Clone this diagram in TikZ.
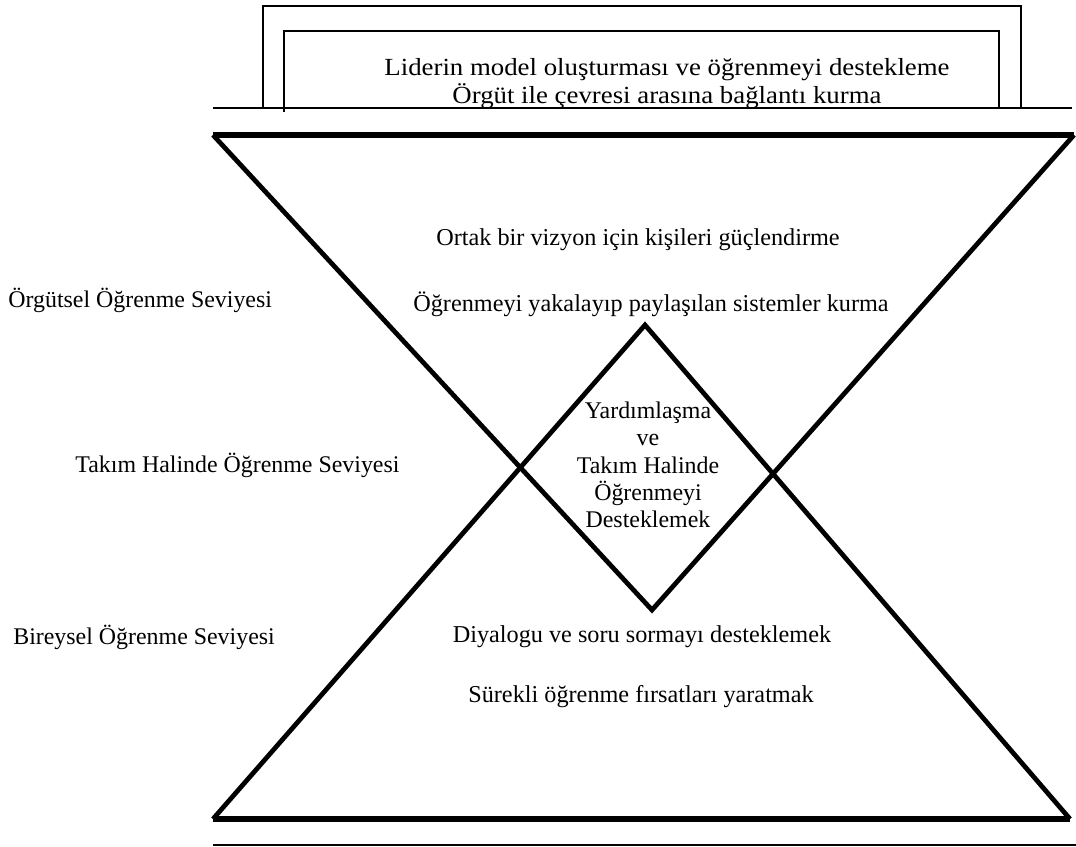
\documentclass[tikz,border=0pt]{standalone}
\usepackage{fontspec}
\setmainfont{Liberation Serif}
\newfontfamily\widefont[FakeStretch=1.09]{Liberation Serif}
\begin{document}
\begin{tikzpicture}[x=0.02cm, y=-0.02cm,
	thinline/.style={draw, line width=0.8pt},
	thickline/.style={draw, line width=3.8pt, line join=miter},
	diag/.style={draw, line width=2.7pt, line join=miter},
	txt/.style={font=\fontsize{13.8}{15.6}\selectfont, inner sep=0pt},
	toptxt/.style={txt, font=\widefont\fontsize{14}{14.7}\selectfont},
	level/.style={txt, anchor=west, font=\fontsize{13.6}{15.6}\selectfont}]

	\useasboundingbox (0,0) rectangle (1076,847);

	% top frame
	\coordinate (lineL) at (213,108);
	\coordinate (lineR) at (1072,108);
	\draw[thinline] (lineL) -- (lineR);
	\draw[thinline] (263,108) |- (1021,6) -- (1021,108);
	\draw[thinline, line width=1.2pt] (284,112) |- (999,31) -- (999,108);

	\node[toptxt] (lead1) at (667,70) {Liderin model oluşturması ve öğrenmeyi destekleme};
	\node[toptxt] (lead2) at (667,96) {Örgüt ile çevresi arasına bağlantı kurma};

	% hourglass
	\coordinate (tl) at (213,135);
	\coordinate (tr) at (1074,135);
	\coordinate (tb) at (652,610);
	\coordinate (bl) at (213,819);
	\coordinate (br) at (1070,819);
	\coordinate (bt) at (645,325);

	\draw[thickline] (tl) -- (tr);
	\draw[thickline] (bl) -- (br);
	\draw[diag] (tl) -- (tb) -- (tr);
	\draw[diag] (bl) -- (bt) -- (br);

	% bottom line
	\coordinate (baseL) at (213,845);
	\coordinate (baseR) at (1076,845);
	\draw[thinline] (baseL) -- (baseR);

	% texts
	\node[txt] (org1) at (638,240) {Ortak bir vizyon için kişileri güçlendirme};
	\node[txt] (org2) at (651,304) {Öğrenmeyi yakalayıp paylaşılan sistemler kurma};

	\node[txt, align=center, font=\fontsize{13.6}{15.6}\selectfont] (team) at (648,465)
		{Yardımlaşma\\ve\\Takım Halinde\\Öğrenmeyi\\Desteklemek};

	\node[txt] (ind1) at (642,637) {Diyalogu ve soru sormayı desteklemek};
	\node[txt] (ind2) at (641,697) {Sürekli öğrenme fırsatları yaratmak};

	\node[level] (lvorg) at (8,300) {Örgütsel Öğrenme Seviyesi};
	\node[level] (lvteam) at (75,465) {Takım Halinde Öğrenme Seviyesi};
	\node[level] (lvind) at (13,637) {Bireysel Öğrenme Seviyesi};
\end{tikzpicture}
\end{document}
